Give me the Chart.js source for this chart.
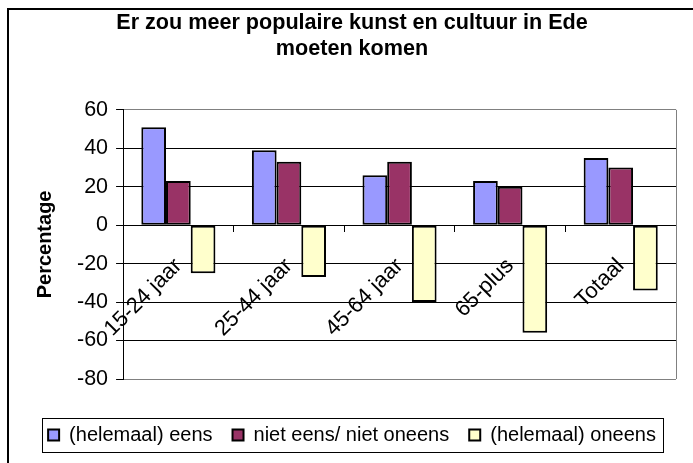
<!DOCTYPE html>
<html>
<head>
<meta charset="utf-8">
<script src="https://cdn.jsdelivr.net/npm/chart.js@4"></script>
<style>
  body { margin: 0; background: #fff; }
  #wrap { width: 693px; height: 463px; }
</style>
</head>
<body>
<div id="wrap"><canvas id="myChart" width="693" height="463"></canvas></div>
<script>
const categories = ['15-24 jaar', '25-44 jaar', '45-64 jaar', '65-plus', 'Totaal'];
const eens = [51, 39, 26, 23, 35];        // (helemaal) eens
const neutraal = [23, 33, 33, 20, 30];    // niet eens/ niet oneens
const oneens = [-25, -27, -40, -56, -34]; // (helemaal) oneens
const yTicks = [60, 40, 20, 0, -20, -40, -60, -80];

const FONT = "'Liberation Sans', Arial, sans-serif";

// frame around the whole chart, gray plot border and a box around the legend
const framePlugin = {
  id: 'frames',
  beforeDatasetsDraw(chart) {
    const { ctx, chartArea: a } = chart;
    ctx.save();
    ctx.strokeStyle = '#808080';
    ctx.lineWidth = 1;
    ctx.beginPath();
    ctx.moveTo(Math.round(a.right) + 0.5, a.top);
    ctx.lineTo(Math.round(a.right) + 0.5, a.bottom);
    ctx.stroke();
    ctx.restore();
  },
  afterDraw(chart) {
    const ctx = chart.ctx;
    ctx.save();
    ctx.strokeStyle = '#000';
    ctx.lineWidth = 2;
    ctx.strokeRect(8, 9, 800, 800);
    const boxes = chart.legend.legendHitBoxes;
    if (boxes && boxes.length) {
      const l = Math.min(...boxes.map(b => b.left)) - 6;
      const r = Math.max(...boxes.map(b => b.left + b.width)) + 7;
      const t = Math.min(...boxes.map(b => b.top)) - 7;
      const btm = Math.max(...boxes.map(b => b.top + b.height)) + 7;
      ctx.lineWidth = 1;
      ctx.strokeStyle = '#000';
      ctx.strokeRect(Math.round(l) + 0.5, Math.round(t) + 0.5, Math.round(r - l), Math.round(btm - t));
    }
    ctx.restore();
  }
};

const ctx = document.getElementById('myChart');

const config = {
  type: 'bar',
  data: {
    labels: categories,
    datasets: [
      { label: '(helemaal) eens', data: eens, backgroundColor: '#9999FF', xAxisID: 'x', yAxisID: 'y' },
      { label: 'niet eens/ niet oneens', data: neutraal, backgroundColor: '#993366', xAxisID: 'x', yAxisID: 'y' },
      { label: '(helemaal) oneens', data: oneens, backgroundColor: '#FFFFCC', xAxisID: 'x', yAxisID: 'y' }
    ]
  },
  options: {
    responsive: false,
    animation: false,
    layout: { padding: { left: 20, right: 9, top: 10, bottom: 8 } },
    datasets: {
      bar: {
        borderColor: '#000',
        borderWidth: 2,
        borderSkipped: false,
        categoryPercentage: 0.67,
        barPercentage: 1
      }
    },
    plugins: {
      title: {
        display: true,
        text: ['Er zou meer populaire kunst en cultuur in Ede', 'moeten komen'],
        color: '#000',
        font: { family: FONT, size: 21.6, weight: 'bold', lineHeight: 1.2 },
        padding: { top: 0, bottom: 48 }
      },
      legend: {
        position: 'bottom',
        labels: {
          color: '#000',
          font: { family: FONT, size: 20 },
          boxWidth: 11,
          boxHeight: 11,
          padding: 20
        }
      },
      tooltip: { enabled: false }
    },
    scales: {
      x: {
        position: { y: 0 },
        grid: { drawOnChartArea: false, drawTicks: true, tickLength: 6, color: '#000', offset: true },
        border: { display: true, color: '#000', width: 1 },
        ticks: {
          color: '#000',
          font: { family: FONT, size: 22 },
          minRotation: 45,
          maxRotation: 45,
          autoSkip: false,
          padding: 22
        }
      },
      gap: {
        type: 'category',
        axis: 'x',
        position: 'bottom',
        display: true,
        grid: { display: false },
        border: { display: false },
        ticks: { display: false },
        afterFit(s) { s.height = 26; }
      },
      side: {
        type: 'linear',
        axis: 'y',
        position: 'right',
        display: true,
        grid: { display: false },
        border: { display: false },
        ticks: { display: false },
        afterFit(s) { s.width = 8; }
      },
      y: {
        min: -80,
        max: 60,
        afterBuildTicks(s) { s.ticks = yTicks.map(v => ({ value: v })); },
        grid: {
          color: c => (c.tick && (c.tick.value === 60 || c.tick.value === -80)) ? '#808080' : '#000',
          tickColor: '#000',
          tickLength: 7
        },
        border: { display: true, color: '#000', width: 1 },
        ticks: {
          color: '#000',
          font: { family: FONT, size: 21.5 },
          padding: 8
        },
        title: {
          display: true,
          text: 'Percentage',
          color: '#000',
          font: { family: FONT, size: 20, weight: 'bold' },
          padding: { top: 13, bottom: 12 }
        }
      }
    }
  },
  plugins: [framePlugin]
};

new Chart(ctx, config);
</script>
</body>
</html>
